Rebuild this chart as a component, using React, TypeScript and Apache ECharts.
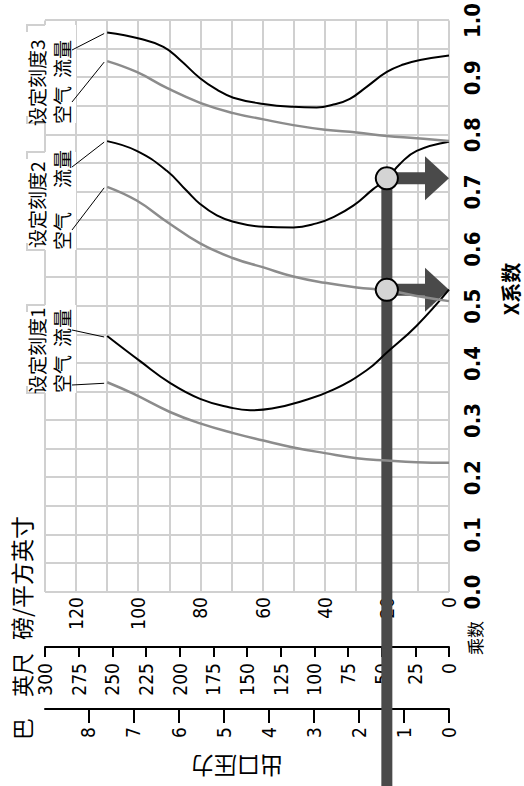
import React, { useEffect, useRef } from "react";
import * as echarts from "echarts";

// ---- data (X coefficient, outlet pressure psi) ----
const flow3 = [[0.979,110],[0.968,99.4],[0.954,91.9],[0.931,86.5],[0.899,80.1],[0.879,74.7],[0.865,69.4],[0.854,59.7],[0.849,50.1],[0.848,42.6],[0.853,37.2],[0.863,31.9],[0.884,26.5],[0.910,20],[0.923,14.7],[0.931,9.3],[0.939,0]];
const air3 = [[0.929,110],[0.910,100.5],[0.882,90.8],[0.856,80.1],[0.838,69.4],[0.827,59.7],[0.817,50.1],[0.809,39.9],[0.804,29.7],[0.798,20],[0.794,10.4],[0.789,0]];
const flow2 = [[0.789,110],[0.772,100.5],[0.737,90.8],[0.702,84.4],[0.679,80.1],[0.659,74.7],[0.648,69.4],[0.639,59.7],[0.638,50.1],[0.645,42.6],[0.656,37.2],[0.676,30.8],[0.705,24.4],[0.723,20],[0.749,15.8],[0.772,10.4],[0.788,0]];
const air2 = [[0.709,110],[0.685,100.5],[0.648,90.8],[0.610,80.1],[0.584,69.4],[0.568,59.7],[0.552,50.1],[0.541,39.9],[0.533,29.7],[0.528,20],[0.518,10.4],[0.509,0]];
const flow1 = [[0.448,110],[0.404,99.4],[0.366,89.8],[0.338,80.1],[0.323,70.5],[0.318,64],[0.321,57],[0.333,47.9],[0.354,37.2],[0.388,26.5],[0.419,20],[0.466,10.4],[0.529,0]];
const air1 = [[0.367,110],[0.347,101.6],[0.315,89.8],[0.295,80.1],[0.278,69.4],[0.265,59.7],[0.253,50.1],[0.243,39.9],[0.234,29.7],[0.230,20],[0.227,10.4],[0.226,0]];
const markerPoints = [[0.724,20],[0.529,20]];

const coefMin = 0, coefMax = 1, coefStep = 0.05;
const psiMin = 0, psiMax = 130, psiStep = 10;
const feetMax = 300, feetStep = 25;
const barTicks = [0,1,2,3,4,5,6,7,8];
const barMax = 130 / 14.5038;

const settings = [
  { title: "设定刻度1", air: "空气", flow: "流量", airData: air1, flowData: flow1 },
  { title: "设定刻度2", air: "空气", flow: "流量", airData: air2, flowData: flow2 },
  { title: "设定刻度3", air: "空气", flow: "流量", airData: air3, flowData: flow3 },
];

// label layout (pixel positions in the unrotated frame)
const boxLayout = [
  { a: 393, b: 481, titleX: 392, airX: 393, flowX: 439, airLead: [401, 72], flowLead: [456, 72] },
  { a: 536, b: 634, titleX: 538, airX: 536, flowX: 598, airLead: [556, 72], flowLead: [619, 72] },
  { a: 663, b: 761, titleX: 660, airX: 662, flowX: 708, airLead: [684, 72], flowLead: [736, 72] },
];

const NARROW = "'Liberation Sans Narrow', 'Arial Narrow', 'DejaVu Sans Condensed', 'Liberation Sans', sans-serif";
const CJK = "'Noto Sans CJK SC', sans-serif";
const GRID = "#d0d0d0";
const ARROW = "#4a4a4a";

export default function App() {
  const ref = useRef<HTMLDivElement>(null);
  useEffect(() => {
    const chart = echarts.init(ref.current as HTMLDivElement, undefined, { renderer: "svg" });
    const lineSeries = (data: number[][], color: string, width: number) => ({
      type: "line",
      data,
      smooth: 0.45,
      symbol: "none",
      showSymbol: false,
      silent: true,
      z: 3,
      lineStyle: { color, width },
    });
    const series: any[] = [
      {
        type: "custom",
        data: [markerPoints[0]],
        z: 2,
        silent: true,
        renderItem: (params: any, api: any) => {
          const p = api.coord([api.value(0), api.value(1)]);
          return {
            type: "rect",
            shape: { x: 0, y: p[1] - 5.5, width: p[0], height: 11 },
            style: { fill: ARROW },
          };
        },
      },
      {
        type: "custom",
        data: markerPoints,
        z: 2,
        silent: true,
        renderItem: (params: any, api: any) => {
          const p = api.coord([api.value(0), api.value(1)]);
          const t = api.coord([api.value(0), 0]);
          const headLen = 24, headHalf = 22, shaft = 12;
          return {
            type: "group",
            children: [
              { type: "rect", shape: { x: p[0] - shaft / 2, y: p[1], width: shaft, height: t[1] - headLen - p[1] }, style: { fill: ARROW } },
              { type: "polygon", shape: { points: [[p[0] - headHalf, t[1] - headLen], [p[0] + headHalf, t[1] - headLen], [p[0], t[1]]] }, style: { fill: ARROW } },
            ],
          };
        },
      },
    ];
    settings.forEach((s) => {
      series.push(lineSeries(s.airData, "#8c8c8c", 2.5));
      series.push(lineSeries(s.flowData, "#000", 2));
    });
    series.push({
      type: "scatter",
      data: markerPoints,
      symbolSize: 22,
      z: 5,
      silent: true,
      itemStyle: { color: "#d4d4d4", borderColor: "#000", borderWidth: 2, opacity: 1 },
    });

    const numLabel = { fontFamily: NARROW, fontSize: 19, color: "#000" };
    chart.setOption({
      animation: false,
      grid: { left: 194, right: 15, top: 45, bottom: 75 },
      xAxis: [{
        type: "value", min: coefMin, max: coefMax, interval: coefStep,
        axisLine: { show: false }, axisTick: { show: false },
        splitLine: { show: true, lineStyle: { color: GRID, width: 2 } },
        axisLabel: {
          margin: 12, fontFamily: NARROW, fontWeight: "bold", fontSize: 22, color: "#000",
          formatter: (v: number) => (Math.round(v * 20) % 2 === 0 ? v.toFixed(1) : ""),
        },
      }],
      yAxis: [
        {
          type: "value", min: psiMin, max: psiMax, interval: psiStep, position: "left",
          axisLine: { show: false }, axisTick: { show: false },
          splitLine: { show: true, lineStyle: { color: GRID, width: 2 } },
          axisLabel: { ...numLabel, margin: 5, formatter: (v: number) => (Math.round(v) % 20 === 0 ? String(Math.round(v)) : "") },
        },
        {
          type: "value", min: 0, max: feetMax, interval: feetStep, position: "left", offset: 55,
          axisLine: { show: true, lineStyle: { color: "#000", width: 2 } },
          axisTick: { show: true, length: 10, lineStyle: { color: "#000", width: 2 } },
          splitLine: { show: false },
          axisLabel: { ...numLabel, margin: 16 },
        },
        {
          type: "value", min: 0, max: barMax, interval: 1, position: "left", offset: 117,
          axisLine: { show: true, lineStyle: { color: "#000", width: 2 } },
          axisTick: { show: true, length: 14, customValues: barTicks, lineStyle: { color: "#000", width: 2 } },
          splitLine: { show: false },
          axisLabel: { ...numLabel, margin: 18, customValues: barTicks, formatter: (v: number) => String(Math.round(v)) },
        },
      ],
      series,
    });

    const txt = (text: string, x: number, y: number, size: number, extra: any = {}, rotation = 0) => ({
      type: "text", x, y, rotation, z: 20, silent: true,
      style: {
        text, fill: "#000", fontSize: size, fontFamily: CJK,
        align: extra.align || "left", verticalAlign: "middle",
        textAlign: extra.align || "left", textVerticalAlign: "middle",
        fontWeight: extra.fontWeight || "normal",
      },
    });

    const graphics: any[] = [];
    boxLayout.forEach((b, i) => {
      const s = settings[i];
      graphics.push({ type: "rect", z: 10, silent: true, shape: { x: b.a, y: 25, width: b.b - b.a, height: 51 }, style: { fill: "#fff" } });
      graphics.push({ type: "polyline", z: 11, silent: true, shape: { points: [[b.b, 45], [b.b, 27], [b.b - 7, 27]] }, style: { stroke: GRID, lineWidth: 2, fill: null } });
      graphics.push({ type: "polyline", z: 11, silent: true, shape: { points: [[b.a + 7, 27], [b.a, 27], [b.a, 45]] }, style: { stroke: GRID, lineWidth: 2, fill: null } });
      graphics.push(txt(s.title, b.titleX, 36, 19));
      graphics.push(txt(s.air, b.airX, 61.5, 19));
      graphics.push(txt(s.flow, b.flowX, 61.5, 19));
      const airStart = chart.convertToPixel({ gridIndex: 0 }, s.airData[0]) as number[];
      const flowStart = chart.convertToPixel({ gridIndex: 0 }, s.flowData[0]) as number[];
      graphics.push({ type: "line", z: 12, silent: true, shape: { x1: b.airLead[0], y1: b.airLead[1], x2: airStart[0] - 1, y2: airStart[1] - 3 }, style: { stroke: "#000", lineWidth: 1 } });
      graphics.push({ type: "line", z: 12, silent: true, shape: { x1: b.flowLead[0], y1: b.flowLead[1], x2: flowStart[0] - 1, y2: flowStart[1] - 3 }, style: { stroke: "#000", lineWidth: 1 } });
    });
    graphics.push(txt("巴", 46, 21, 22));
    graphics.push(txt("英尺", 89, 21, 22));
    graphics.push(txt("磅/平方英寸", 146, 21, 23));
    graphics.push(txt("出口压力", 19, 237, 23, { align: "center" }, Math.PI / 2));
    graphics.push(txt("乘数", 131, 474, 17));
    graphics.push(txt("X系数", 497, 510, 20, { align: "center", fontWeight: "bold" }));
    chart.setOption({ graphic: graphics });

    return () => chart.dispose();
  }, []);

  return (
    <div style={{ position: "fixed", left: 0, top: 0, width: 524, height: 786, overflow: "hidden", background: "#fff" }}>
      <div
        ref={ref}
        style={{
          position: "absolute", left: 0, top: 0, width: 786, height: 524,
          transformOrigin: "0 0", transform: "translate(0px, 786px) rotate(-90deg)",
        }}
      />
    </div>
  );
}
